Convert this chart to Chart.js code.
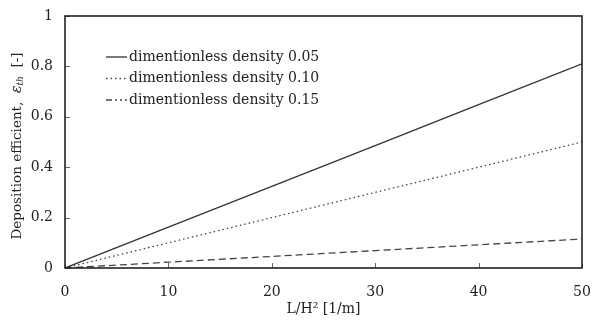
<!DOCTYPE html>
<html>
<head>
<meta charset="utf-8">
<script src="https://cdn.jsdelivr.net/npm/chart.js@4/dist/chart.umd.min.js"></script>
<style>
  body { margin: 0; background: #fff; }
</style>
</head>
<body>
<canvas id="depositionchart" width="593" height="322"></canvas>
<script>
// values
var xValues = [0, 10, 20, 30, 40, 50];
var density005 = [0, 0.162, 0.324, 0.486, 0.648, 0.81];
var density010 = [0, 0.10, 0.20, 0.30, 0.40, 0.50];
var density015 = [0, 0.023, 0.046, 0.069, 0.092, 0.115];
var seriesNames = [
    'dimentionless density 0.05',
    'dimentionless density 0.10',
    'dimentionless density 0.15'
];
var xTicks = [0, 10, 20, 30, 40, 50];
var yTicks = [0, 0.2, 0.4, 0.6, 0.8, 1];

var serif = "'DejaVu Serif', 'Liberation Serif', serif";
var ink = '#222';

function pairs(ys) {
    return xValues.map(function (x, i) { return { x: x, y: ys[i] }; });
}

// box, inward ticks, legend and y title
var decor = {
    id: 'decor',
    afterDraw: function (chart) {
        var ctx = chart.ctx;
        var a = chart.chartArea;
        var xs = chart.scales.x, ys = chart.scales.y;
        ctx.save();
        ctx.strokeStyle = '#666';
        ctx.lineWidth = 1;
        xTicks.forEach(function (v) {
            var px = Math.round(xs.getPixelForValue(v)) + 0.5;
            ctx.beginPath(); ctx.moveTo(px, a.bottom); ctx.lineTo(px, a.bottom - 5); ctx.stroke();
        });
        yTicks.forEach(function (v) {
            var py = Math.round(ys.getPixelForValue(v)) + 0.5;
            ctx.beginPath(); ctx.moveTo(a.left, py); ctx.lineTo(a.left + 5, py); ctx.stroke();
        });
        ctx.strokeStyle = ink;
        ctx.lineWidth = 1.6;
        ctx.strokeRect(a.left, a.top, a.right - a.left, a.bottom - a.top);

        // legend
        var legendDash = [[], [1.5, 3], [6, 3, 2, 3, 2, 3]];
        ctx.font = '14px ' + serif;
        ctx.fillStyle = ink;
        ctx.textBaseline = 'middle';
        chart.data.datasets.forEach(function (ds, i) {
            var y = 57 + i * 21.5;
            ctx.strokeStyle = ds.borderColor;
            ctx.lineWidth = ds.borderWidth;
            ctx.setLineDash(legendDash[i]);
            ctx.beginPath(); ctx.moveTo(106, y); ctx.lineTo(127, y); ctx.stroke();
            ctx.setLineDash([]);
            ctx.fillText(ds.label, 129, y);
        });

        // y axis title with italic subscript
        ctx.translate(17, 146);
        ctx.rotate(-Math.PI / 2);
        var p1 = 'Deposition efficient,  ';
        var p2 = '\u03b5';
        var p3 = 'th';
        var p4 = '  [-]';
        var f1 = '13.5px ' + serif, f2 = 'italic 14px ' + serif, f3 = 'italic 9px ' + serif;
        ctx.textBaseline = 'middle';
        ctx.font = f1; var w1 = ctx.measureText(p1).width, w4 = ctx.measureText(p4).width;
        ctx.font = f2; var w2 = ctx.measureText(p2).width;
        ctx.font = f3; var w3 = ctx.measureText(p3).width;
        var x0 = -(w1 + w2 + w3 + w4) / 2;
        ctx.textAlign = 'left';
        ctx.font = f1; ctx.fillText(p1, x0, 0);
        ctx.font = f2; ctx.fillText(p2, x0 + w1, 0);
        ctx.font = f3; ctx.fillText(p3, x0 + w1 + w2, 4);
        ctx.font = f1; ctx.fillText(p4, x0 + w1 + w2 + w3, 0);
        ctx.restore();
    }
};

var chart1 = document.getElementById('depositionchart');
var myChart1 = new Chart(chart1, {
    type: 'line',
    data: {
        datasets: [{
            label: seriesNames[0],
            data: pairs(density005),
            borderColor: '#333',
            borderWidth: 1.3,
            pointRadius: 0
        }, {
            label: seriesNames[1],
            data: pairs(density010),
            borderColor: '#444',
            borderWidth: 1.3,
            borderDash: [1.5, 3],
            pointRadius: 0
        }, {
            label: seriesNames[2],
            data: pairs(density015),
            borderColor: '#444',
            borderWidth: 1.3,
            borderDash: [7, 4],
            pointRadius: 0
        }]
    },
    options: {
        responsive: false,
        animation: false,
        devicePixelRatio: 1,
        layout: { padding: { top: 16, right: 11, left: 0, bottom: 0 } },
        plugins: { legend: { display: false }, tooltip: { enabled: false } },
        scales: {
            x: {
                type: 'linear',
                min: 0, max: 50,
                afterBuildTicks: function (s) { s.ticks = xTicks.map(function (v) { return { value: v }; }); },
                afterFit: function (s) { s.height = 54; s.paddingLeft = 0; s.paddingRight = 0; },
                grid: { display: false, drawTicks: false },
                border: { display: false },
                ticks: { color: ink, font: { family: serif, size: 14 }, padding: 16, maxRotation: 0 },
                title: { display: true, text: 'L/H\u00b2 [1/m]', color: ink, font: { family: serif, size: 14 }, padding: { top: 0 } }
            },
            y: {
                min: 0, max: 1,
                afterBuildTicks: function (s) { s.ticks = yTicks.map(function (v) { return { value: v }; }); },
                afterFit: function (s) { s.width = 65; s.paddingTop = 0; s.paddingBottom = 0; },
                grid: { display: false, drawTicks: false },
                border: { display: false },
                ticks: {
                    color: ink, font: { family: serif, size: 14 }, padding: 12,
                    callback: function (v) { return String(Math.round(v * 10) / 10); }
                }
            }
        }
    },
    plugins: [decor]
});
</script>
</body>
</html>
